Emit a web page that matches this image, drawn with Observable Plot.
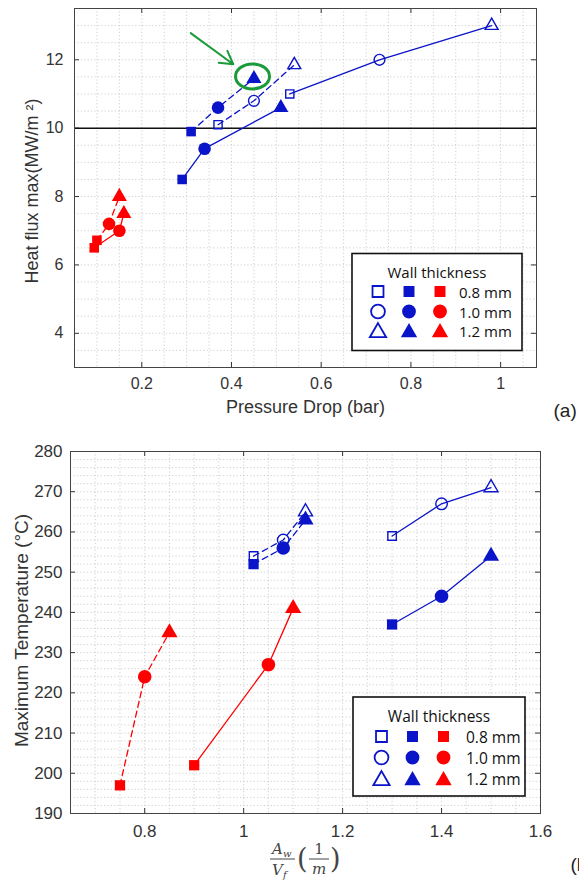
<!DOCTYPE html>
<html><head><meta charset="utf-8">
<script src="https://cdn.jsdelivr.net/npm/d3@7"></script>
<script src="https://cdn.jsdelivr.net/npm/@observablehq/plot@0.6"></script>
<style>
body{margin:0;background:#fff;width:579px;overflow:hidden}
svg{display:block}
</style>
</head><body><div id="a"></div><div id="b"></div>
<script>
// ---------- shared ----------
const shapes = ["square", "circle", "triangle"];
const legendLabels = ["0.8 mm", "1.0 mm", "1.2 mm"];
const legendTitle = "Wall thickness";
const BLUE = "#0a14c8", RED = "#ff0000", GREEN = "#1a9a38";

// ---------- chart (a) data ----------
const aXTicks = [0.2, 0.4, 0.6, 0.8, 1];
const aYTicks = [4, 6, 8, 10, 12];
const aBlueSolidOpenX = [0.53, 0.73, 0.98],   aBlueSolidOpenY = [11.0, 12.0, 13.0];
const aBlueSolidFillX = [0.29, 0.34, 0.51],   aBlueSolidFillY = [8.5, 9.4, 10.6];
const aBlueDashOpenX  = [0.37, 0.45, 0.54],   aBlueDashOpenY  = [10.1, 10.8, 11.85];
const aBlueDashFillX  = [0.31, 0.37, 0.45],   aBlueDashFillY  = [9.9, 10.6, 11.45];
const aRedDashX       = [0.10, 0.127, 0.15],  aRedDashY       = [6.72, 7.2, 8.0];
const aRedSolidX      = [0.094, 0.15, 0.16],  aRedSolidY      = [6.5, 7.0, 7.5];
const aRefLine = [10];
const aArrow = {x1: 0.309, y1: 12.78, x2: 0.404, y2: 11.87};
const aHighlight = {x: 0.448, y: 11.5};

// ---------- chart (b) data ----------
const bXTicks = [0.8, 1, 1.2, 1.4, 1.6];
const bYTicks = [190, 200, 210, 220, 230, 240, 250, 260, 270, 280];
const bRedDashX       = [0.75, 0.80, 0.85],   bRedDashY       = [197, 224, 235];
const bRedSolidX      = [0.90, 1.05, 1.10],   bRedSolidY      = [202, 227, 241];
const bBlueDashOpenX  = [1.02, 1.08, 1.125],  bBlueDashOpenY  = [254, 258, 265];
const bBlueDashFillX  = [1.02, 1.08, 1.125],  bBlueDashFillY  = [252, 256, 263];
const bBlueSolidOpenX = [1.30, 1.40, 1.50],   bBlueSolidOpenY = [259, 267, 271];
const bBlueSolidFillX = [1.30, 1.40, 1.50],   bBlueSolidFillY = [237, 244, 254];

function series(xs, ys) { return xs.map((x, i) => ({x, y: ys[i], s: shapes[i]})); }
function range(a, b, step) { const out = []; for (let v = a; v <= b + 1e-9; v += step) out.push(+v.toFixed(4)); return out; }

function seriesMarks(xs, ys, color, dashed, open, sizes) {
  const d = series(xs, ys);
  return [
    Plot.line(d, {x: "x", y: "y", stroke: color, strokeWidth: 1.3, strokeDasharray: dashed ? "6,4" : null}),
    Plot.dot(d, {x: "x", y: "y", symbol: "s", r: d => sizes[d.s],
      fill: open ? "none" : color, stroke: color, strokeWidth: open ? 1.4 : 0})
  ];
}

function frameMarks(xt, yt, fw, fh, xminor, yminor) {
  return [
    Plot.ruleX(xminor, {stroke: "#c4c4c4", strokeWidth: 0.8, strokeDasharray: "1.2,2.2"}),
    Plot.ruleY(yminor, {stroke: "#c4c4c4", strokeWidth: 0.8, strokeDasharray: "1.2,2.2"}),
    Plot.tickX(xt, {x: d => d, insetTop: fh - 5, stroke: "#333"}),
    Plot.tickX(xt, {x: d => d, insetBottom: fh - 5, stroke: "#333"}),
    Plot.tickY(yt, {y: d => d, insetRight: fw - 5, stroke: "#333"}),
    Plot.tickY(yt, {y: d => d, insetLeft: fw - 5, stroke: "#333"}),
  ];
}

function drawLegend(svg, x0, y0, w, h, cols, rows, labelX, titleY, fontSize) {
  const g = d3.select(svg).append("g").attr("text-anchor", "start");
  g.append("rect").attr("x", x0).attr("y", y0).attr("width", w).attr("height", h)
    .attr("fill", "#fff").attr("stroke", "#111").attr("stroke-width", 1.6);
  g.append("text").attr("x", x0 + w / 2).attr("y", titleY).attr("text-anchor", "middle")
    .attr("dominant-baseline", "central").attr("font-family", "'Open Sans', sans-serif")
    .attr("font-size", fontSize).attr("fill", "#111").text(legendTitle);
  const sym = {square: d3.symbolSquare, circle: d3.symbolCircle, triangle: d3.symbolTriangle};
  const size = {square: 120, circle: 150, triangle: 115};
  const styles = [{fill: "none", stroke: BLUE}, {fill: BLUE, stroke: "none"}, {fill: RED, stroke: "none"}];
  shapes.forEach((s, r) => {
    styles.forEach((st, c) => {
      g.append("path").attr("d", d3.symbol(sym[s], size[s])())
        .attr("transform", `translate(${cols[c]},${rows[r] + (s === "triangle" ? 1.5 : 0)})`)
        .attr("fill", st.fill).attr("stroke", st.stroke).attr("stroke-width", 1.8);
    });
    g.append("text").attr("x", labelX).attr("y", rows[r]).attr("dominant-baseline", "central")
      .attr("text-anchor", "start")
      .attr("font-family", "'Open Sans', sans-serif").attr("font-size", fontSize).attr("fill", "#111")
      .text(legendLabels[r]);
  });
}

// ---------- chart (a) ----------
const aSize = {square: 5.4, circle: 6.3, triangle: 5.6};
const aSizeOpen = {square: 4.6, circle: 5.4, triangle: 4.8};
const aW = 579, aH = 430, aML = 74, aMR = 43, aMT = 8, aMB = 63;
const chartA = Plot.plot({
  width: aW, height: aH, marginLeft: aML, marginRight: aMR, marginTop: aMT, marginBottom: aMB,
  style: {fontFamily: "'Liberation Sans', Arial, sans-serif", fontSize: "15px", color: "#333", background: "#fff"},
  x: {domain: [0.05, 1.08]},
  y: {domain: [3, 13.5]},
  r: {type: "identity"},
  marks: [
    ...frameMarks(aXTicks, aYTicks, aW - aML - aMR, aH - aMT - aMB, range(0.05, 1.05, 0.05), range(3.5, 13, 0.5)),
    Plot.ruleY(aRefLine, {stroke: "#111", strokeWidth: 1.5}),
    Plot.axisX(aXTicks, {tickSize: 0, tickPadding: 10, fontSize: 16, label: null, tickFormat: d => String(d), fill: "#333"}),
    Plot.axisY(aYTicks, {tickSize: 0, tickPadding: 11, fontSize: 16, label: null, fill: "#333"}),
    ...seriesMarks(aBlueSolidFillX, aBlueSolidFillY, BLUE, false, false, aSize),
    ...seriesMarks(aBlueSolidOpenX, aBlueSolidOpenY, BLUE, false, true, aSizeOpen),
    ...seriesMarks(aBlueDashFillX, aBlueDashFillY, BLUE, true, false, aSize),
    ...seriesMarks(aBlueDashOpenX, aBlueDashOpenY, BLUE, true, true, aSizeOpen),
    ...seriesMarks(aRedSolidX, aRedSolidY, RED, false, false, aSize),
    ...seriesMarks(aRedDashX, aRedDashY, RED, true, false, aSize),
    Plot.arrow([aArrow], {x1: "x1", y1: "y1", x2: "x2", y2: "y2", stroke: GREEN, strokeWidth: 2, headLength: 11}),
    Plot.frame({stroke: "#444", strokeWidth: 1}),
    Plot.text(["Pressure Drop (bar)"], {frameAnchor: "bottom", dy: 45, fontSize: 18, fill: "#333"}),
    Plot.text(["Heat flux max(MW/m \u00B2)"], {frameAnchor: "left", dx: -42, dy: 3, rotate: -90, textAnchor: "middle", fontSize: 18, fill: "#333"}),
    Plot.text(["(a)"], {frameAnchor: "bottom-right", dx: 17, dy: 49, textAnchor: "start", fontSize: 19, fill: "#222"})
  ]
});
document.getElementById("a").append(chartA);
{
  const sx = chartA.scale("x"), sy = chartA.scale("y");
  d3.select(chartA).append("ellipse")
    .attr("cx", sx.apply(aHighlight.x)).attr("cy", sy.apply(aHighlight.y))
    .attr("rx", 17).attr("ry", 12.5).attr("fill", "none").attr("stroke", GREEN).attr("stroke-width", 3);
  drawLegend(chartA, 352, 253.5, 170, 97, [378, 409, 440], [291.5, 311.5, 331], 459, 272, 15);
}

// ---------- chart (b) ----------
const bSize = {square: 5.8, circle: 6.8, triangle: 6.0};
const bSizeOpen = {square: 4.8, circle: 5.8, triangle: 5.2};
const bW = 579, bH = 454, bML = 70, bMR = 39, bMT = 21, bMB = 71;
const chartB = Plot.plot({
  width: bW, height: bH, marginLeft: bML, marginRight: bMR, marginTop: bMT, marginBottom: bMB,
  style: {fontFamily: "'Liberation Sans', Arial, sans-serif", fontSize: "17px", color: "#333", background: "#fff"},
  x: {domain: [0.65, 1.6]},
  y: {domain: [190, 280]},
  r: {type: "identity"},
  marks: [
    ...frameMarks(bXTicks, bYTicks, bW - bML - bMR, bH - bMT - bMB, range(0.65, 1.6, 0.05), range(192, 278, 2)),
    Plot.axisX(bXTicks, {tickSize: 0, tickPadding: 11, fontSize: 17, label: null, tickFormat: d => String(d), fill: "#333"}),
    Plot.axisY(bYTicks, {tickSize: 0, tickPadding: 8, fontSize: 17, label: null, fill: "#333"}),
    ...seriesMarks(bRedDashX, bRedDashY, RED, true, false, bSize),
    ...seriesMarks(bRedSolidX, bRedSolidY, RED, false, false, bSize),
    ...seriesMarks(bBlueDashOpenX, bBlueDashOpenY, BLUE, true, true, bSizeOpen),
    ...seriesMarks(bBlueDashFillX, bBlueDashFillY, BLUE, true, false, bSize),
    ...seriesMarks(bBlueSolidOpenX, bBlueSolidOpenY, BLUE, false, true, bSizeOpen),
    ...seriesMarks(bBlueSolidFillX, bBlueSolidFillY, BLUE, false, false, bSize),
    Plot.frame({stroke: "#444", strokeWidth: 1}),
    Plot.text(["Maximum Temperature (\u00B0C)"], {frameAnchor: "left", dx: -49, dy: -2, rotate: -90, textAnchor: "middle", fontSize: 19, fill: "#333"}),
    Plot.text(["(b)"], {frameAnchor: "bottom-right", dx: 30, dy: 57, textAnchor: "start", fontSize: 19, fill: "#222"})
  ]
});
document.getElementById("b").append(chartB);
{
  const svg = d3.select(chartB);
  const fy = bH - bMB; // frame bottom in px
  const g = svg.append("g").attr("fill", "#444").attr("text-anchor", "start")
    .attr("font-family", "'DejaVu Serif', 'Liberation Serif', serif");
  const cx = 270, base = fy + 41;
  // A_w / V_f
  g.append("text").attr("x", cx + 2).attr("y", base).attr("font-style", "italic").attr("font-size", 15).text("A");
  g.append("text").attr("x", cx + 13).attr("y", base + 3).attr("font-style", "italic").attr("font-size", 10).text("w");
  g.append("line").attr("x1", cx).attr("x2", cx + 25).attr("y1", base + 5).attr("y2", base + 5).attr("stroke", "#444").attr("stroke-width", 1);
  g.append("text").attr("x", cx + 2).attr("y", base + 21).attr("font-style", "italic").attr("font-size", 15).text("V");
  g.append("text").attr("x", cx + 13).attr("y", base + 24).attr("font-style", "italic").attr("font-size", 10).text("f");
  // ( 1/m )
  g.append("text").attr("x", cx + 27).attr("y", base + 14).attr("font-size", 27).attr("font-weight", 200).text("(");
  g.append("text").attr("x", cx + 49).attr("y", base).attr("text-anchor", "middle").attr("font-size", 15).text("1");
  g.append("line").attr("x1", cx + 39).attr("x2", cx + 59).attr("y1", base + 5).attr("y2", base + 5).attr("stroke", "#444").attr("stroke-width", 1);
  g.append("text").attr("x", cx + 49).attr("y", base + 20).attr("text-anchor", "middle").attr("font-style", "italic").attr("font-size", 15).text("m");
  g.append("text").attr("x", cx + 60).attr("y", base + 14).attr("font-size", 27).attr("font-weight", 200).text(")");
  drawLegend(chartB, 353, 697 - 430, 172, 99, [381.5, 412.5, 443.5], [736.5 - 430, 757.5 - 430, 779 - 430], 466, 715.5 - 430, 15.5);
}
</script>
</body></html>
